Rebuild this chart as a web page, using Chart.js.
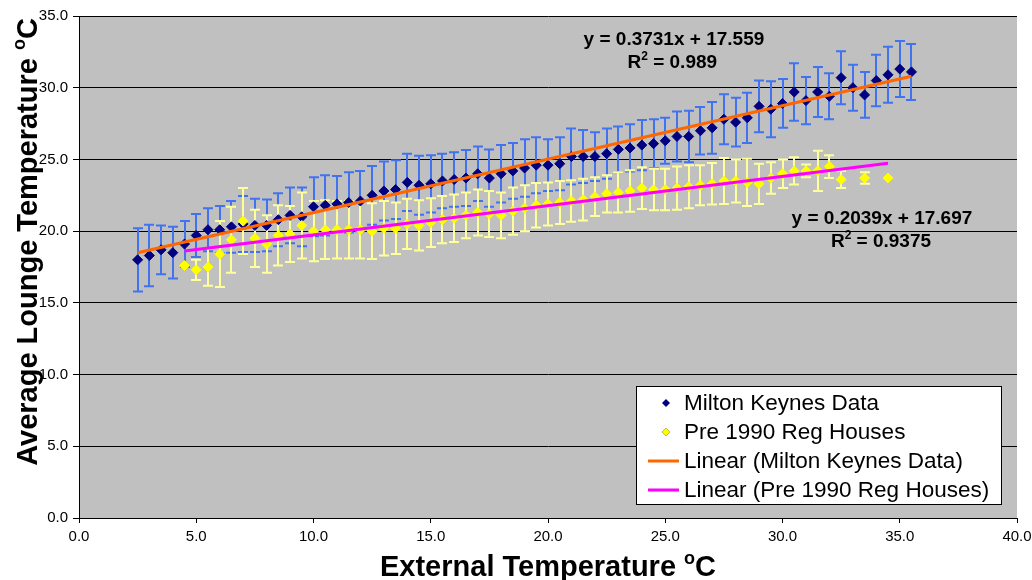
<!DOCTYPE html>
<html lang="en">
<head>
<meta charset="utf-8">
<script src="https://cdn.jsdelivr.net/npm/chart.js@4.4.0/dist/chart.umd.min.js"></script>
<style>
    body { margin: 0; background: #ffffff; }
    #wrap { width: 1032px; height: 580px; }
</style>
</head>
<body>
<div id="wrap"><canvas id="myChart" width="1032" height="580"></canvas></div>
<script>
// Milton Keynes: external temp, mean lounge temp, error (+/-)
var mkExt = [2.5, 3, 3.5, 4, 4.5, 5, 5.5, 6, 6.5, 7, 7.5, 8, 8.5, 9, 9.5, 10, 10.5, 11, 11.5, 12, 12.5, 13,
    13.5, 14, 14.5, 15, 15.5, 16, 16.5, 17, 17.5, 18, 18.5, 19, 19.5, 20, 20.5, 21, 21.5, 22, 22.5, 23,
    23.5, 24, 24.5, 25, 25.5, 26, 26.5, 27, 27.5, 28, 28.5, 29, 29.5, 30, 30.5, 31, 31.5, 32, 32.5, 33,
    33.5, 34, 34.5, 35, 35.5];
var mkLounge = [18.0, 18.3, 18.7, 18.5, 19.1, 19.7, 20.1, 20.1, 20.3, 20.5, 20.4, 20.4, 20.8, 21.1, 21.0, 21.7, 21.8, 21.9, 22.0, 22.1, 22.5, 22.8,
    22.9, 23.4, 23.2, 23.3, 23.5, 23.6, 23.7, 24.0, 23.7, 24.0, 24.2, 24.4, 24.6, 24.6, 24.7, 25.2, 25.2, 25.2, 25.4, 25.7,
    25.8, 26.0, 26.1, 26.3, 26.6, 26.6, 27.0, 27.2, 27.8, 27.6, 27.9, 28.7, 28.5, 28.9, 29.7, 29.1, 29.7, 29.4, 30.7, 30.0,
    29.5, 30.5, 30.9, 31.3, 31.1];
var mkErr = [2.2, 2.15, 1.7, 1.8, 1.6, 1.5, 1.5, 1.65, 1.8, 1.95, 1.85, 1.8, 1.85, 1.95, 2.05, 2.05, 2.1, 1.95, 2.1, 2.1, 2.05, 2.05,
    2.05, 2.0, 2.05, 2.0, 1.9, 1.9, 1.95, 1.9, 2.0, 2.0, 1.95, 2.0, 1.95, 1.8, 1.85, 1.95, 1.85, 1.7, 1.75, 1.6,
    1.65, 1.75, 1.7, 1.6, 1.75, 1.8, 1.65, 1.8, 1.75, 1.7, 1.75, 1.8, 1.95, 1.7, 2.0, 1.65, 1.75, 1.6, 1.85, 1.6,
    1.6, 1.8, 1.95, 1.95, 1.95];

// Pre 1990 Reg houses
var preExt = [4.5, 5, 5.5, 6, 6.5, 7, 7.5, 8, 8.5, 9, 9.5, 10, 10.5, 11, 11.5, 12, 12.5, 13, 13.5, 14, 14.5, 15,
    15.5, 16, 16.5, 17, 17.5, 18, 18.5, 19, 19.5, 20, 20.5, 21, 21.5, 22, 22.5, 23, 23.5, 24, 24.5, 25,
    25.5, 26, 26.5, 27, 27.5, 28, 28.5, 29, 29.5, 30, 30.5, 31, 31.5, 32, 32.5, 33, 33.5, 34, 34.5];
var preLounge = [17.6, 17.3, 17.5, 18.4, 19.4, 20.7, 19.5, 19.1, 19.7, 19.8, 20.4, 20.0, 20.1, 20.1, 20.1, 20.1, 20.0, 20.2, 20.2, 20.5, 20.4, 20.6,
    20.8, 20.9, 21.1, 21.3, 21.2, 21.1, 21.4, 21.6, 21.8, 21.9, 22.0, 22.1, 22.2, 22.4, 22.6, 22.7, 22.8, 23.0, 22.9, 22.9,
    23.0, 23.1, 23.2, 23.3, 23.5, 23.5, 23.4, 23.3, 23.7, 24.0, 24.2, 24.2, 24.2, 24.5, 23.6, null, 23.7, null, 23.7];
var preErr = [0, 0.7, 1.3, 2.3, 2.3, 2.3, 2.0, 2.0, 2.1, 1.95, 2.3, 2.1, 2.05, 2.0, 2.0, 2.0, 1.95, 1.9, 1.8, 1.75, 1.75, 1.7,
    1.65, 1.65, 1.6, 1.6, 1.6, 1.6, 1.65, 1.6, 1.55, 1.5, 1.5, 1.45, 1.45, 1.35, 1.3, 1.4, 1.45, 1.45, 1.45, 1.45,
    1.5, 1.5, 1.4, 1.45, 1.6, 1.5, 1.65, 1.4, 1.1, 1.0, 0.95, 0.45, 1.4, 0.8, 0.6, null, 0.4, null, 0];

// trend line end points
var mkTrendX = [2.5, 35.5];
var mkTrendY = [18.49, 30.8];
var preTrendX = [4.5, 34.5];
var preTrendY = [18.61, 24.73];

var xTicks = [0, 5, 10, 15, 20, 25, 30, 35, 40];
var yTicks = [0, 5, 10, 15, 20, 25, 30, 35];

function pts(xs, ys) {
    return xs.map(function(x, i) { return {x: x, y: ys[i]}; });
}

var FONT = '"Liberation Sans", Arial, sans-serif';
Chart.defaults.font.family = FONT;
Chart.defaults.color = '#000';

var plotBg = {
    id: 'plotBg',
    beforeDraw: function(chart) {
        var a = chart.chartArea, ctx = chart.ctx;
        ctx.save();
        ctx.fillStyle = '#c0c0c0';
        ctx.fillRect(a.left, a.top, a.right - a.left, a.bottom - a.top);
        ctx.restore();
    }
};

var errorBars = {
    id: 'errorBars',
    beforeDatasetsDraw: function(chart) {
        var ctx = chart.ctx, xs = chart.scales.x, ys = chart.scales.y;
        function draw(xv, yv, ev, colour) {
            ctx.save();
            ctx.strokeStyle = colour;
            ctx.lineWidth = 2;
            for (var i = 0; i < xv.length; i++) {
                if (yv[i] == null || !ev[i]) continue;
                var px = Math.round(xs.getPixelForValue(xv[i]));
                var top = ys.getPixelForValue(yv[i] + ev[i]);
                var bot = ys.getPixelForValue(yv[i] - ev[i]);
                ctx.beginPath();
                ctx.moveTo(px, top); ctx.lineTo(px, bot);
                ctx.moveTo(px - 5, top); ctx.lineTo(px + 5, top);
                ctx.moveTo(px - 5, bot); ctx.lineTo(px + 5, bot);
                ctx.stroke();
            }
            ctx.restore();
        }
        draw(mkExt, mkLounge, mkErr, '#4172f0');
        draw(preExt, preLounge, preErr, '#ffff99');
    }
};

// draw text runs (with raised small parts) centred on cx
function drawRuns(ctx, runs, cx, base) {
    var total = 0;
    runs.forEach(function(r) {
        ctx.font = 'bold ' + r.size + 'px ' + FONT;
        r.w = ctx.measureText(r.t).width;
        total += r.w;
    });
    var x = cx - total / 2;
    ctx.textAlign = 'left';
    ctx.textBaseline = 'alphabetic';
    runs.forEach(function(r) {
        ctx.font = 'bold ' + r.size + 'px ' + FONT;
        ctx.fillText(r.t, x, base - (r.rise || 0));
        x += r.w;
    });
}

var labels = {
    id: 'labels',
    afterDraw: function(chart) {
        var ctx = chart.ctx, a = chart.chartArea, xs = chart.scales.x, ys = chart.scales.y;
        ctx.save();
        ctx.fillStyle = '#000';
        // axis titles
        drawRuns(ctx, [{t: 'External Temperature ', size: 29}, {t: 'o', size: 18, rise: 12}, {t: 'C', size: 29}],
            548, 576);
        ctx.save();
        ctx.translate(37, 242);
        ctx.rotate(-Math.PI / 2);
        drawRuns(ctx, [{t: 'Average Lounge Temperature ', size: 29}, {t: 'o', size: 18, rise: 12}, {t: 'C', size: 29}], 0, 0);
        ctx.restore();

        // trend equations
        drawRuns(ctx, [{t: 'y = 0.3731x + 17.559', size: 19}], xs.getPixelForValue(25.37), ys.getPixelForValue(32.98));
        drawRuns(ctx, [{t: 'R', size: 19}, {t: '2', size: 12, rise: 8}, {t: ' = 0.989', size: 19}], xs.getPixelForValue(25.3), ys.getPixelForValue(31.38));
        drawRuns(ctx, [{t: 'y = 0.2039x + 17.697', size: 19}], xs.getPixelForValue(34.24), ys.getPixelForValue(20.5));
        drawRuns(ctx, [{t: 'R', size: 19}, {t: '2', size: 12, rise: 8}, {t: ' = 0.9375', size: 19}], xs.getPixelForValue(34.2), ys.getPixelForValue(18.9));

        // legend box
        var left = a.right - 381, top = a.bottom - 132, w = 365, h = 118;
        ctx.fillStyle = '#fff';
        ctx.fillRect(left, top, w, h);
        ctx.strokeStyle = '#000';
        ctx.lineWidth = 1;
        ctx.strokeRect(left + 0.5, top + 0.5, w, h);
        ctx.font = '22.5px ' + FONT;
        ctx.textBaseline = 'middle';
        ctx.textAlign = 'left';
        chart.data.datasets.forEach(function(ds, i) {
            var cy = top + 17 + i * 29;
            if (ds.showLine) {
                ctx.strokeStyle = ds.borderColor;
                ctx.lineWidth = 3;
                ctx.beginPath();
                ctx.moveTo(left + 12, cy);
                ctx.lineTo(left + 43, cy);
                ctx.stroke();
            } else {
                Chart.helpers.drawPoint(ctx, {pointStyle: 'rectRot', radius: 4, borderWidth: 0}, left + 30, cy);
                ctx.fillStyle = ds.backgroundColor;
                ctx.fill();
            }
            ctx.fillStyle = '#000';
            ctx.fillText(ds.label, left + 48, cy + 1);
        });
        ctx.restore();
    }
};

var ctx = document.getElementById('myChart').getContext('2d');
var myChart = new Chart(ctx, {
    type: 'scatter',
    data: {
        datasets: [
            {
                label: 'Milton Keynes Data',
                data: pts(mkExt, mkLounge),
                pointStyle: 'rectRot',
                pointRadius: 5,
                borderWidth: 1,
                backgroundColor: '#000080',
                borderColor: '#000080',
                order: 2
            },
            {
                label: 'Pre 1990 Reg Houses',
                data: pts(preExt, preLounge),
                pointStyle: 'rectRot',
                pointRadius: 5,
                borderWidth: 1,
                backgroundColor: '#ffff00',
                borderColor: '#ffff00',
                order: 1
            },
            {
                label: 'Linear (Milton Keynes Data)',
                data: pts(mkTrendX, mkTrendY),
                showLine: true,
                pointRadius: 0,
                borderWidth: 3,
                borderColor: '#ff6600',
                order: 0
            },
            {
                label: 'Linear (Pre 1990 Reg Houses)',
                data: pts(preTrendX, preTrendY),
                showLine: true,
                pointRadius: 0,
                borderWidth: 3,
                borderColor: '#ff00ff',
                order: 0
            }
        ]
    },
    options: {
        responsive: false,
        animation: false,
        layout: { padding: { top: 16, right: 15, left: 0, bottom: 0 } },
        plugins: { legend: { display: false }, tooltip: { enabled: false } },
        scales: {
            x: {
                type: 'linear',
                min: 0, max: 40,
                afterFit: function(s) { s.height = 62; s.paddingRight = 0; s.paddingLeft = 0; },
                afterBuildTicks: function(s) { s.ticks = xTicks.map(function(v) { return {value: v}; }); },
                ticks: { font: { size: 15 }, padding: 5, maxRotation: 0,
                    callback: function(v) { return Number(v).toFixed(1); } },
                grid: { drawOnChartArea: false, drawTicks: true, tickLength: 5, color: '#000' },
                border: { display: true, color: '#000', width: 1 }
            },
            y: {
                min: 0, max: 35,
                afterFit: function(s) { s.width = 79; s.paddingTop = 0; s.paddingBottom = 0; },
                afterBuildTicks: function(s) { s.ticks = yTicks.map(function(v) { return {value: v}; }); },
                ticks: { font: { size: 15 }, padding: 5,
                    callback: function(v) { return Number(v).toFixed(1); } },
                grid: { color: '#000', lineWidth: 1, drawTicks: true, tickLength: 6 },
                border: { display: true, color: '#000', width: 1 }
            }
        }
    },
    plugins: [plotBg, errorBars, labels]
});
</script>
</body>
</html>
